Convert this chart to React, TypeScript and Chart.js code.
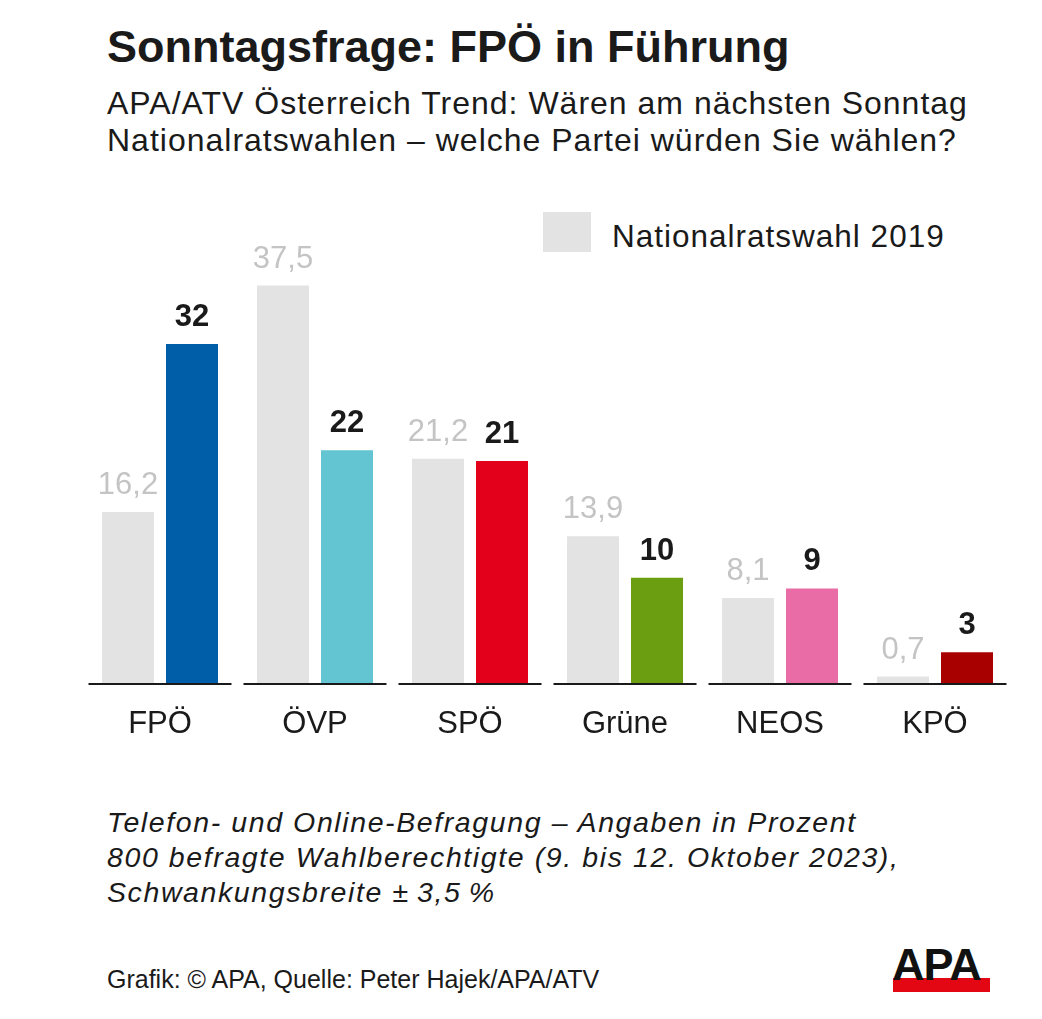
import React, { useEffect, useRef } from "react";
import { Chart, registerables } from "chart.js";

Chart.register(...registerables);

const categories = ["FPÖ", "ÖVP", "SPÖ", "Grüne", "NEOS", "KPÖ"];
const values2019 = [16.2, 37.5, 21.2, 13.9, 8.1, 0.7];
const valuesTrend = [32, 22, 21, 10, 9, 3];
const partyColors = ["#005ea8", "#63c5d1", "#e2001a", "#6b9e10", "#ea6ca6", "#a80000"];
const legendLabel = "Nationalratswahl 2019";

const FONT = '"Liberation Sans", Arial, Helvetica, sans-serif';
const fmt = (v: number) => String(v).replace(".", ",");

const labelPlugin = {
  id: "labelPlugin",
  afterDatasetsDraw(chart: any) {
    const ctx = chart.ctx;
    const xScale = chart.scales.x;
    const yScale = chart.scales.y;
    const y0 = yScale.getPixelForValue(0);
    const catW = (chart.chartArea.right - chart.chartArea.left) / categories.length;
    ctx.save();
    categories.forEach((c, i) => {
      const cx = xScale.getPixelForValue(i);
      const half = catW / 2 - 6;
      ctx.strokeStyle = "#1a1a1a";
      ctx.lineWidth = 2;
      ctx.beginPath();
      ctx.moveTo(cx - half, y0);
      ctx.lineTo(cx + half, y0);
      ctx.stroke();
      ctx.fillStyle = "#1a1a1a";
      ctx.font = `31px ${FONT}`;
      ctx.textAlign = "center";
      ctx.textBaseline = "alphabetic";
      ctx.fillText(c, cx, y0 + 49);
    });
    chart.data.datasets.forEach((ds: any, di: number) => {
      const meta = chart.getDatasetMeta(di);
      meta.data.forEach((el: any, i: number) => {
        const v = ds.data[i];
        ctx.textAlign = "center";
        ctx.textBaseline = "alphabetic";
        if (di === 0) {
          ctx.fillStyle = "#c4c4c4";
          ctx.font = `31px ${FONT}`;
        } else {
          ctx.fillStyle = "#1a1a1a";
          ctx.font = `bold 31px ${FONT}`;
        }
        ctx.fillText(fmt(v), el.x, el.y - 18);
      });
    });
    ctx.restore();
  },
};

function BarChart() {
  const ref = useRef<HTMLCanvasElement | null>(null);
  useEffect(() => {
    if (!ref.current) return;
    const chart = new Chart(ref.current, {
      type: "bar",
      data: {
        labels: categories,
        datasets: [
          {
            label: legendLabel,
            data: values2019,
            backgroundColor: "#e3e3e3",
            categoryPercentage: 0.826,
            barPercentage: 0.8125,
          },
          {
            label: "Trend",
            data: valuesTrend,
            backgroundColor: partyColors,
            categoryPercentage: 0.826,
            barPercentage: 0.8125,
          },
        ],
      },
      options: {
        animation: false,
        responsive: false,
        devicePixelRatio: 1,
        layout: { padding: { left: 82.5, right: 29.5, top: 69, bottom: 66 } },
        plugins: { legend: { display: false }, tooltip: { enabled: false } },
        scales: {
          x: { display: false },
          y: { display: false, min: 0, max: 40 },
        },
      },
      plugins: [labelPlugin],
    });
    return () => chart.destroy();
  }, []);
  return (
    <canvas
      ref={ref}
      width={1042}
      height={560}
      style={{ position: "absolute", left: 0, top: 190, width: 1042, height: 560 }}
    />
  );
}

export default function App() {
  const abs = (o: any): any => ({ position: "absolute", whiteSpace: "nowrap", color: "#1a1a1a", fontFamily: FONT, ...o });
  return (
    <div style={{ position: "absolute", left: 0, top: 0, width: 1042, height: 1019, background: "#fff", overflow: "hidden" }}>
      <div style={abs({ left: 107, top: 24, fontSize: 45, fontWeight: "bold", lineHeight: "45px" })}>
        Sonntagsfrage: FPÖ in Führung
      </div>
      <div style={abs({ left: 107, top: 85, fontSize: 32, lineHeight: "37px", letterSpacing: "1px" })}>
        APA/ATV Österreich Trend: Wären am nächsten Sonntag
        <br />
        Nationalratswahlen – welche Partei würden Sie wählen?
      </div>
      <div style={abs({ left: 543, top: 212, width: 48, height: 40, background: "#e3e3e3" })} />
      <div style={abs({ left: 612, top: 221, fontSize: 31.5, lineHeight: "31px", letterSpacing: "1px" })}>
        {legendLabel}
      </div>
      <BarChart />
      <div style={abs({ left: 107, top: 805, fontSize: 28.5, lineHeight: "35px", fontStyle: "italic", letterSpacing: "1.6px" })}>
        Telefon- und Online-Befragung – Angaben in Prozent
        <br />
        800 befragte Wahlberechtigte (9. bis 12. Oktober 2023),
        <br />
        Schwankungsbreite ±{"\u2009"}3,5{"\u2009"}%
      </div>
      <div style={abs({ left: 107, top: 967, fontSize: 25, lineHeight: "25px" })}>
        Grafik: © APA, Quelle: Peter Hajek/APA/ATV
      </div>
      <div style={abs({ left: 893, top: 978, width: 97, height: 14, background: "#e30613" })} />
      <div style={abs({ left: 892, top: 942, fontSize: 45, fontWeight: 900, lineHeight: "45px", letterSpacing: "-1px", color: "#111" })}>
        APA
      </div>
    </div>
  );
}
